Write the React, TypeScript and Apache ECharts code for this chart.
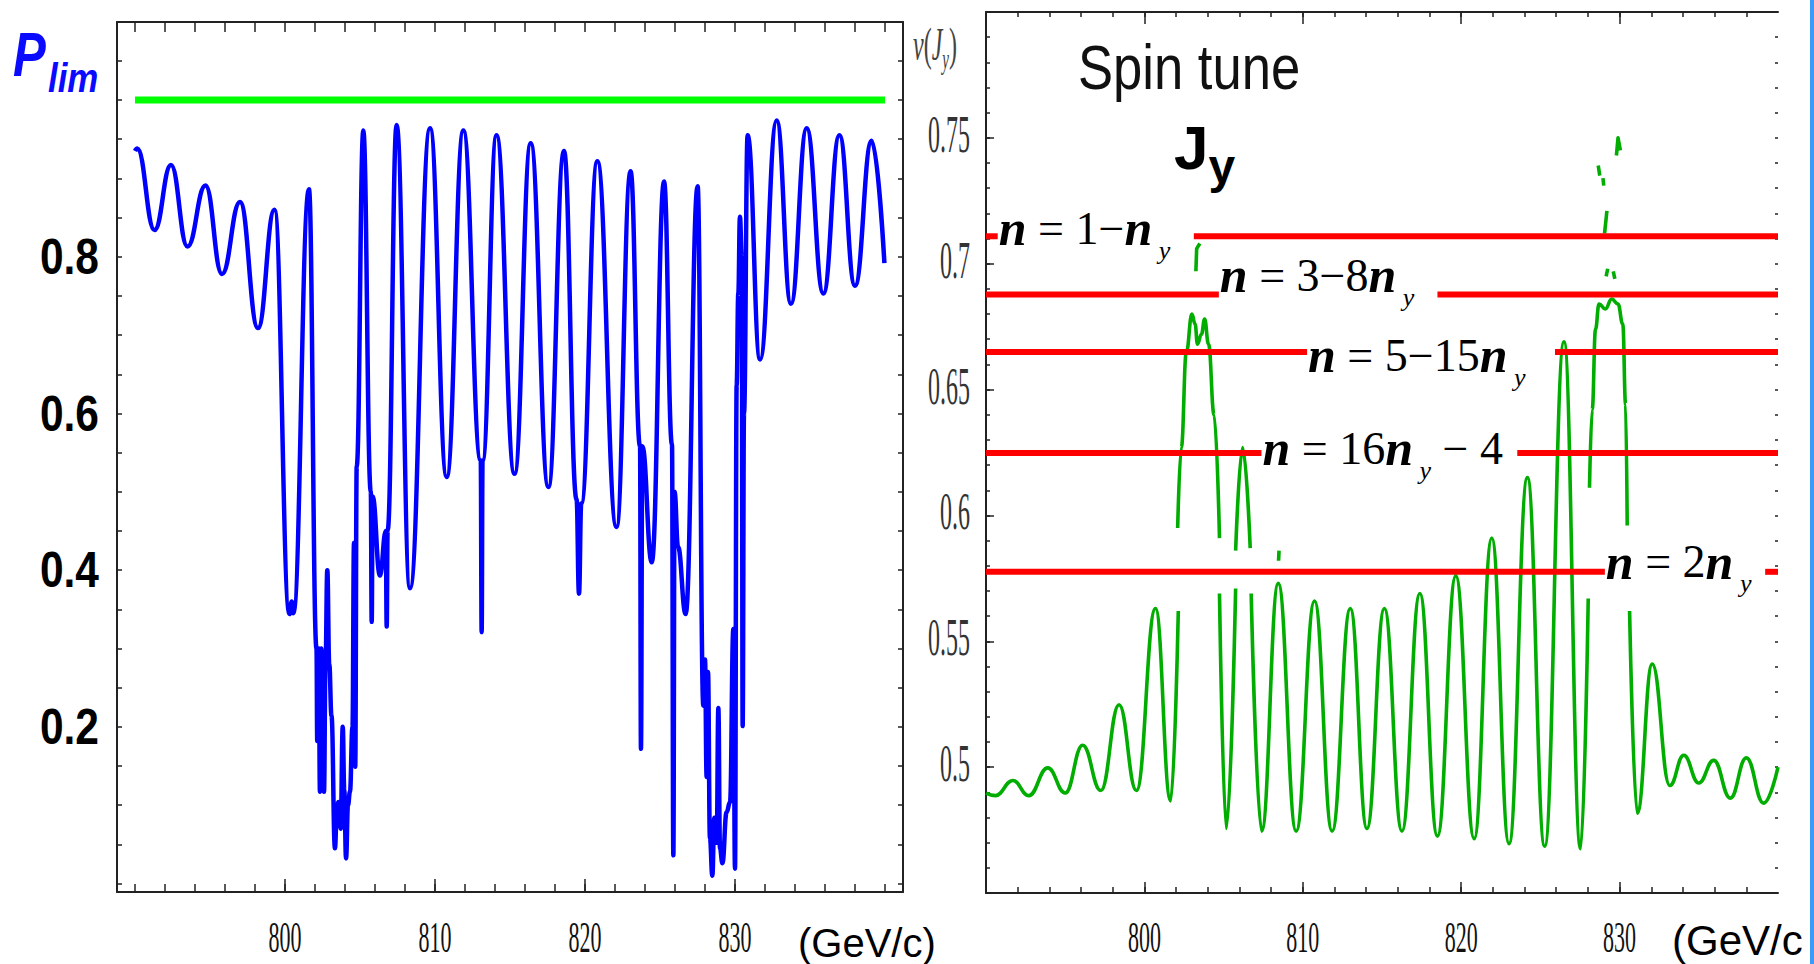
import React, { useEffect, useRef } from "react";
import * as echarts from "echarts";

// ---------------- data ----------------
const xTickLabels = [800, 810, 820, 830];
const leftYTickLabels = [0.2, 0.4, 0.6, 0.8];
const rightYTickLabels = [0.5, 0.55, 0.6, 0.65, 0.7, 0.75];

// left panel: limiting polarisation
const pLimLevel = 1.0;
const pLimLevelRange = [790, 840];
const pLimCurve: [number, number][] = [
  [790.0, 0.935], [790.15, 0.938], [791.3, 0.834], [792.4, 0.917], [793.5, 0.813], [794.7, 0.891],
  [795.8, 0.778], [797.0, 0.87], [798.2, 0.709], [799.3, 0.86],
  [800.3, 0.344], [800.45, 0.36], [800.55, 0.345], [801.6, 0.886],
  [802.1, 0.3], [802.15, 0.182], [802.25, 0.3], [802.33, 0.117], [802.42, 0.3], [802.5, 0.25],
  [802.6, 0.117], [802.7, 0.28], [802.82, 0.4], [802.95, 0.28], [803.1, 0.214], [803.33, 0.045],
  [803.45, 0.09], [803.56, 0.104], [803.71, 0.07], [803.85, 0.2], [803.95, 0.12], [804.07, 0.032],
  [804.2, 0.1], [804.33, 0.117], [804.5, 0.2], [804.6, 0.435], [804.68, 0.149], [804.78, 0.532],
  [805.22, 0.961], [805.72, 0.5], [805.78, 0.334], [805.84, 0.494], [806.33, 0.393], [806.72, 0.45],
  [806.78, 0.328], [806.84, 0.45], [807.44, 0.968],
  [808.33, 0.377], [809.67, 0.964], [810.78, 0.519], [811.89, 0.961],
  [813.05, 0.54], [813.11, 0.321], [813.17, 0.54], [814.1, 0.955], [815.3, 0.523], [816.38, 0.945],
  [817.56, 0.506], [818.6, 0.935], [819.44, 0.49], [819.6, 0.37], [819.75, 0.485], [820.82, 0.922],
  [822.1, 0.455], [823.04, 0.909], [823.67, 0.558], [823.73, 0.172], [823.82, 0.558], [824.45, 0.41],
  [825.27, 0.896], [825.8, 0.56], [825.89, 0.036], [825.97, 0.5], [826.2, 0.43], [826.71, 0.344],
  [827.51, 0.89], [827.89, 0.227], [828.0, 0.286], [828.11, 0.136], [828.2, 0.27], [828.33, 0.058],
  [828.49, 0.01], [828.62, 0.084], [828.78, 0.052], [828.89, 0.224], [829.0, 0.045], [829.16, 0.026],
  [829.44, 0.091], [829.67, 0.104], [829.89, 0.325], [830.0, 0.019], [830.11, 0.636], [830.22, 0.753],
  [830.33, 0.851], [830.45, 0.8], [830.51, 0.201], [830.6, 0.6], [830.84, 0.955],
  [831.67, 0.669], [832.78, 0.974], [833.73, 0.74], [834.78, 0.964], [835.89, 0.753], [836.96, 0.955],
  [838.0, 0.763], [839.11, 0.948], [839.96, 0.792],
];

// right panel: spin tune, drawn in pieces (the curve jumps)
const tuneSegA: [number, number][] = [
  [790.0, 0.4897], [790.6, 0.4887], [791.7, 0.4947], [792.7, 0.4887], [793.9, 0.4997], [795.0, 0.4897],
  [796.1, 0.5087], [797.25, 0.4907], [798.4, 0.5248], [799.5, 0.4907], [800.7, 0.563], [801.66, 0.4866],
  [802.14, 0.562],
];
const tuneSegB: [number, number][] = [
  [802.1, 0.595], [802.33, 0.627], [802.65, 0.665], [803.0, 0.68], [803.2, 0.676], [803.35, 0.668],
  [803.6, 0.672], [803.8, 0.678], [804.05, 0.668], [804.4, 0.64], [804.74, 0.591],
];
const tuneSegC: [number, number][] = [[804.74, 0.569], [805.17, 0.4756], [805.76, 0.571]];
const tuneSegD: [number, number][] = [[805.76, 0.586], [806.2, 0.627], [806.68, 0.587]];
const tuneSegE: [number, number][] = [
  [806.74, 0.569], [807.4, 0.4746], [808.45, 0.573], [809.58, 0.4746], [810.74, 0.566], [811.85, 0.4746],
  [813.0, 0.563], [814.05, 0.4756], [815.15, 0.563], [816.26, 0.4746], [817.39, 0.569], [818.5, 0.4726],
  [819.66, 0.576], [820.82, 0.4716], [821.93, 0.591], [823.02, 0.4696], [824.18, 0.615], [825.27, 0.4686],
  [826.49, 0.669], [827.54, 0.4676], [828.02, 0.567],
];
const tuneSegF: [number, number][] = [
  [828.1, 0.611], [828.27, 0.642], [828.48, 0.674], [828.7, 0.684], [829.1, 0.682], [829.5, 0.686],
  [829.9, 0.684], [830.2, 0.676], [830.38, 0.644], [830.48, 0.596],
];
const tuneSegG: [number, number][] = [
  [830.63, 0.562], [831.11, 0.4817], [832.06, 0.541], [833.17, 0.4927], [834.05, 0.5047], [835.0, 0.4937],
  [835.94, 0.5027], [836.99, 0.4877], [838.0, 0.5037], [839.09, 0.4857], [840.0, 0.5],
];
const tuneFragments: [number, number][][] = [
  [[803.25, 0.697], [803.3, 0.706], [803.5, 0.708]],
  [[808.47, 0.582], [808.5, 0.586]],
  [[828.65, 0.739], [828.75, 0.735]],
  [[828.95, 0.734], [829.0, 0.731]],
  [[829.05, 0.712], [829.2, 0.721]],
  [[829.15, 0.695], [829.25, 0.698]],
  [[829.6, 0.697], [829.7, 0.694]],
  [[829.8, 0.743], [829.9, 0.75], [830.05, 0.745]],
];

// resonance lines (red): level, where the left piece ends, where the right piece starts
const resonanceLevels = [0.7109, 0.6878, 0.6649, 0.6248, 0.5776];
const resonanceLeftEnd = [790.74, 804.7, 810.27, 807.39, 829.07];
const resonanceRightStart = [803.12, 818.5, 825.92, 823.54, 839.19];
const resonanceLabels = [
  "{n|n}{t| = 1−}{n|n}{s| y}",
  "{n|n}{t| = 3−8}{n|n}{s| y}",
  "{n|n}{t| = 5−15}{n|n}{s| y}",
  "{n|n}{t| = 16}{n|n}{s| y}{t| − 4}",
  "{n|n}{t| = 2}{n|n}{s| y}",
];

// ---------------- styling / layout ----------------
const W = 1814;
const H = 964;
const L_X = [788.8, 841.2];
const L_Y = [-0.0108, 1.0996];
const R_X = [790, 840];
const R_Y = [0.45, 0.8];
const labelDy = [-8, -19, 3, -5, -10];
const INK = "#222";

function range(a: number, b: number, step: number) {
  const out: number[] = [];
  for (let k = 0; a + k * step <= b + 1e-9; k++) out.push(+(a + k * step).toFixed(4));
  return out;
}

function mkAxis(grid: number, pos: string, mm: number[], ticks: number[], len: number, line: boolean) {
  return {
    type: "value", gridIndex: grid, position: pos, min: mm[0], max: mm[1],
    axisLine: { show: line, onZero: false, lineStyle: { color: INK, width: 2 } },
    axisTick: { show: true, inside: true, length: len, customValues: ticks, lineStyle: { color: INK, width: 1.5 } },
    axisLabel: { show: false }, splitLine: { show: false }, minorTick: { show: false },
  };
}

function lineSeries(data: any[], xi: number, yi: number, color: string, width: number, smooth: any, z: number) {
  return {
    type: "line", xAxisIndex: xi, yAxisIndex: yi, data, showSymbol: false, symbol: "none",
    smooth, smoothMonotone: "x", z, silent: true,
    lineStyle: { color, width, cap: "butt", join: "round" },
  };
}

function buildOption() {
  const evensL = range(790, 840, 2);
  const evensR = range(792, 838, 2);
  const majorX = [800, 810, 820, 830];
  const leftYTicks = range(0, 1.05, 0.05);
  const rightYMinor = range(0.46, 0.79, 0.01);
  const rightYMajor = range(0.5, 0.75, 0.05);

  const xAxis = [
    mkAxis(0, "bottom", L_X, evensL, 8, true),
    mkAxis(0, "bottom", L_X, majorX, 13, false),
    mkAxis(0, "top", L_X, evensL, 10, true),
    mkAxis(1, "bottom", R_X, evensR, 6, true), // index 3: data axis of the right panel
    mkAxis(1, "bottom", R_X, majorX, 11, false),
    mkAxis(1, "top", R_X, evensR, 5, true),
    mkAxis(1, "top", R_X, majorX, 12, false),
  ];
  const yAxis = [
    mkAxis(0, "left", L_Y, leftYTicks, 5, true),
    mkAxis(0, "right", L_Y, leftYTicks, 5, true),
    mkAxis(1, "left", R_Y, rightYMinor, 4, true), // index 2: data axis of the right panel
    mkAxis(1, "left", R_Y, rightYMajor, 8, false),
    mkAxis(1, "right", R_Y, rightYMinor, 3, false),
  ];

  const series: any[] = [];
  series.push(lineSeries(pLimLevelRange.map((x) => [x, pLimLevel]), 0, 0, "#00ff00", 7, false, 3));
  series.push(lineSeries(pLimCurve, 0, 0, "#0000ff", 4.5, 0.45, 4));

  const green = "#00ad00";
  [tuneSegA, tuneSegB, tuneSegC, tuneSegD, tuneSegE, tuneSegF, tuneSegG].forEach((seg) =>
    series.push(lineSeries(seg, 3, 2, green, 3.6, 0.45, 3))
  );
  tuneFragments.forEach((seg) => series.push(lineSeries(seg, 3, 2, green, 3.6, false, 3)));

  resonanceLevels.forEach((lv, i) => {
    series.push(lineSeries([[R_X[0], lv], [resonanceLeftEnd[i], lv]], 3, 2, "#ff0000", 6, false, 5));
    series.push(lineSeries([[resonanceRightStart[i], lv], [R_X[1], lv]], 3, 2, "#ff0000", 6, false, 5));
  });

  return {
    animation: false,
    backgroundColor: "#ffffff",
    grid: [
      { left: 117, top: 22, width: 786, height: 870, containLabel: false },
      { left: 986, top: 12, width: 792, height: 881, containLabel: false },
    ],
    xAxis,
    yAxis,
    series,
  };
}

function txt(x: number, y: number, text: string, o: any) {
  return {
    type: "text", x, y, scaleX: o.sx ?? 1, scaleY: o.sy ?? 1, silent: true, z: 100,
    style: {
      text,
      fontFamily: o.family ?? "Liberation Serif",
      fontSize: o.size ?? 24,
      fontWeight: o.weight ?? "normal",
      fontStyle: o.style ?? "normal",
      fill: o.fill ?? "#000",
      align: o.align ?? "center",
      verticalAlign: o.va ?? "middle",
      textAlign: o.align ?? "center",
      textVerticalAlign: o.va ?? "middle",
      rich: o.rich,
    },
  };
}

function buildGraphics(chart: any) {
  const g: any[] = [];
  const toL = (x: number, y: number) => chart.convertToPixel({ gridIndex: 0 }, [x, y]) as number[];
  const toR = (x: number, y: number) => chart.convertToPixel({ gridIndex: 1 }, [x, y]) as number[];

  // x tick labels, tall narrow serif
  xTickLabels.forEach((v) => {
    g.push(txt(toL(v, 0)[0], 937, String(v), { size: 22, sy: 2.05, fill: "#111" }));
    g.push(txt(toR(v, 0.5)[0], 937, String(v), { size: 22, sy: 2.05, fill: "#111" }));
  });
  // left y tick labels, bold condensed sans
  leftYTickLabels.forEach((v) => {
    g.push(txt(99, toL(790, v)[1], String(v), {
      family: "Liberation Sans", size: 50, weight: "bold", sx: 0.85, align: "right",
    }));
  });
  // right y tick labels
  rightYTickLabels.forEach((v) => {
    g.push(txt(970, toR(790, v)[1] - 4, String(v), { size: 24, sy: 2.2, align: "right", fill: "#333" }));
  });

  // resonance labels
  const rich = {
    n: { fontFamily: "Liberation Serif", fontStyle: "italic", fontWeight: "bold", fontSize: 50, lineHeight: 70 },
    t: { fontFamily: "Liberation Serif", fontSize: 46, lineHeight: 70 },
    s: { fontFamily: "Liberation Serif", fontStyle: "italic", fontSize: 26, lineHeight: 26, verticalAlign: "bottom" },
  };
  resonanceLabels.forEach((lab, i) => {
    const p = toR(resonanceLeftEnd[i], resonanceLevels[i]);
    g.push(txt(p[0] + 1, p[1] + labelDy[i], lab, { align: "left", rich }));
  });

  // titles
  g.push(txt(13, 54.5, "P", { family: "Liberation Sans", size: 63, weight: "bold", style: "italic", fill: "#0a0aff", align: "left", sx: 0.78 }));
  g.push(txt(48, 77.5, "lim", { family: "Liberation Sans", size: 41, weight: "bold", style: "italic", fill: "#0a0aff", align: "left", sx: 0.85 }));
  g.push(txt(1078, 67, "Spin tune", { family: "Liberation Sans", size: 63, align: "left", sx: 0.835, fill: "#111" }));
  g.push(txt(1174, 147, "{J|J}{s|y}", {
    align: "left",
    rich: {
      J: { fontFamily: "Liberation Sans", fontWeight: "bold", fontSize: 62, lineHeight: 86 },
      s: { fontFamily: "Liberation Sans", fontWeight: "bold", fontSize: 48, lineHeight: 48, verticalAlign: "bottom" },
    },
  }));
  g.push(txt(913, 44, "{i|ν}{a|(}{i|J}{s|y}{a|)}", {
    align: "left", sy: 1.95, fill: "#444",
    rich: {
      i: { fontFamily: "Liberation Serif", fontStyle: "italic", fontSize: 24, lineHeight: 30 },
      a: { fontFamily: "Liberation Serif", fontSize: 24, lineHeight: 30 },
      s: { fontFamily: "Liberation Serif", fontStyle: "italic", fontSize: 15, lineHeight: 15, verticalAlign: "bottom" },
    },
  }));
  g.push(txt(798, 943, "(GeV/c)", { family: "Liberation Sans", size: 40, align: "left" }));
  g.push(txt(1672, 940, "(GeV/c", { family: "Liberation Sans", size: 42, align: "left" }));

  // blue border at the right edge of the slide
  g.push({ type: "rect", silent: true, z: 100, shape: { x: 1810, y: 0, width: 4, height: H }, style: { fill: "#3b9cf5" } });
  return g;
}

export default function App() {
  const ref = useRef<HTMLDivElement>(null);
  useEffect(() => {
    const el = ref.current;
    if (!el) return;
    const chart = echarts.init(el, null, { renderer: "svg", width: W, height: H });
    chart.setOption(buildOption() as any);
    chart.setOption({ graphic: buildGraphics(chart) } as any);
    return () => chart.dispose();
  }, []);
  return (
    <div
      ref={ref}
      style={{ position: "fixed", left: 0, top: 0, width: W, height: H, background: "#fff" }}
    />
  );
}
